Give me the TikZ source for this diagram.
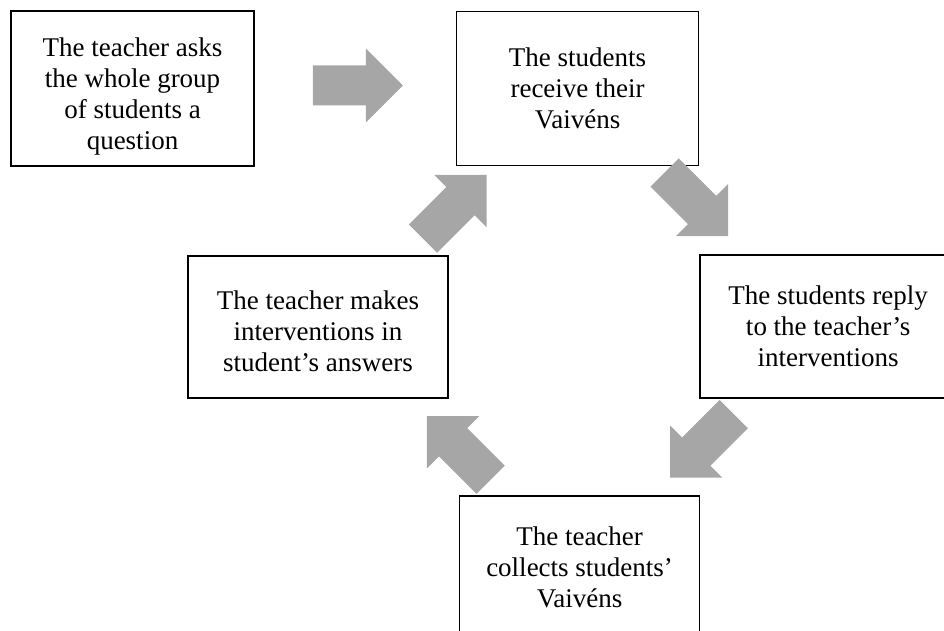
\documentclass[tikz,border=0pt]{standalone}
\usepackage{fontspec}
\setmainfont{Liberation Serif}
\usepackage{xcolor}
\usepackage{tikz}
\usetikzlibrary{positioning, calc}
\definecolor{arrowgray}{RGB}{166,166,166}
\tikzset{
  stepbox/.style={rectangle, draw=black, line width=1.6pt, fill=white, align=center, inner sep=0pt, font=\fontsize{27}{31}\selectfont},
  blockarrow/.pic={\fill[arrowgray] (-45,-20) -- (8,-20) -- (8,-37) -- (45,0) -- (8,37) -- (8,20) -- (-45,20) -- cycle;}
}

\begin{document}
\begin{tikzpicture}[x=1pt, y=-1pt]
\clip (0,0) rectangle (944,631);

% Steps of the cycle
\node (ask) [stepbox, minimum width=243pt, minimum height=155pt] at (132.5,88.5) {\rule{0pt}{34pt}The teacher asks\\the whole group\\of students a\\question};
\node (receive) [stepbox, minimum width=242pt, minimum height=154pt, right=201pt of ask] {The students\\receive their\\Vaivéns};
\node (reply) [stepbox, minimum width=256pt, minimum height=143pt, below right=88pt and 0pt of receive] {The students reply\\to the teacher’s\\interventions};
\node (collect) [stepbox, minimum width=240pt, minimum height=144pt, below left=96pt and -1pt of reply] {The teacher\\collects students’\\Vaivéns};
\node (intervene) [stepbox, minimum width=260pt, minimum height=142pt, above left=96pt and 10pt of collect] {\rule{0pt}{28pt}The teacher makes\\interventions in\\student’s answers};

% Block arrows
\pic at ($(ask.east)!0.5!(receive.west)+(2.5,-3)$) {blockarrow};
\pic[rotate=-45] at ($(receive.south east)!0.5!(reply.north west)+(-3,-6)$) {blockarrow};
\pic[rotate=-135] at ($(reply.south west)!0.5!(collect.north east)+(2,-1)$) {blockarrow};
\pic[rotate=135] at ($(collect.north west)!0.5!(intervene.south east)+(5,1)$) {blockarrow};
\pic[rotate=45] at ($(intervene.north east)!0.5!(receive.south west)+(2.5,-4)$) {blockarrow};

\end{tikzpicture}
\end{document}
